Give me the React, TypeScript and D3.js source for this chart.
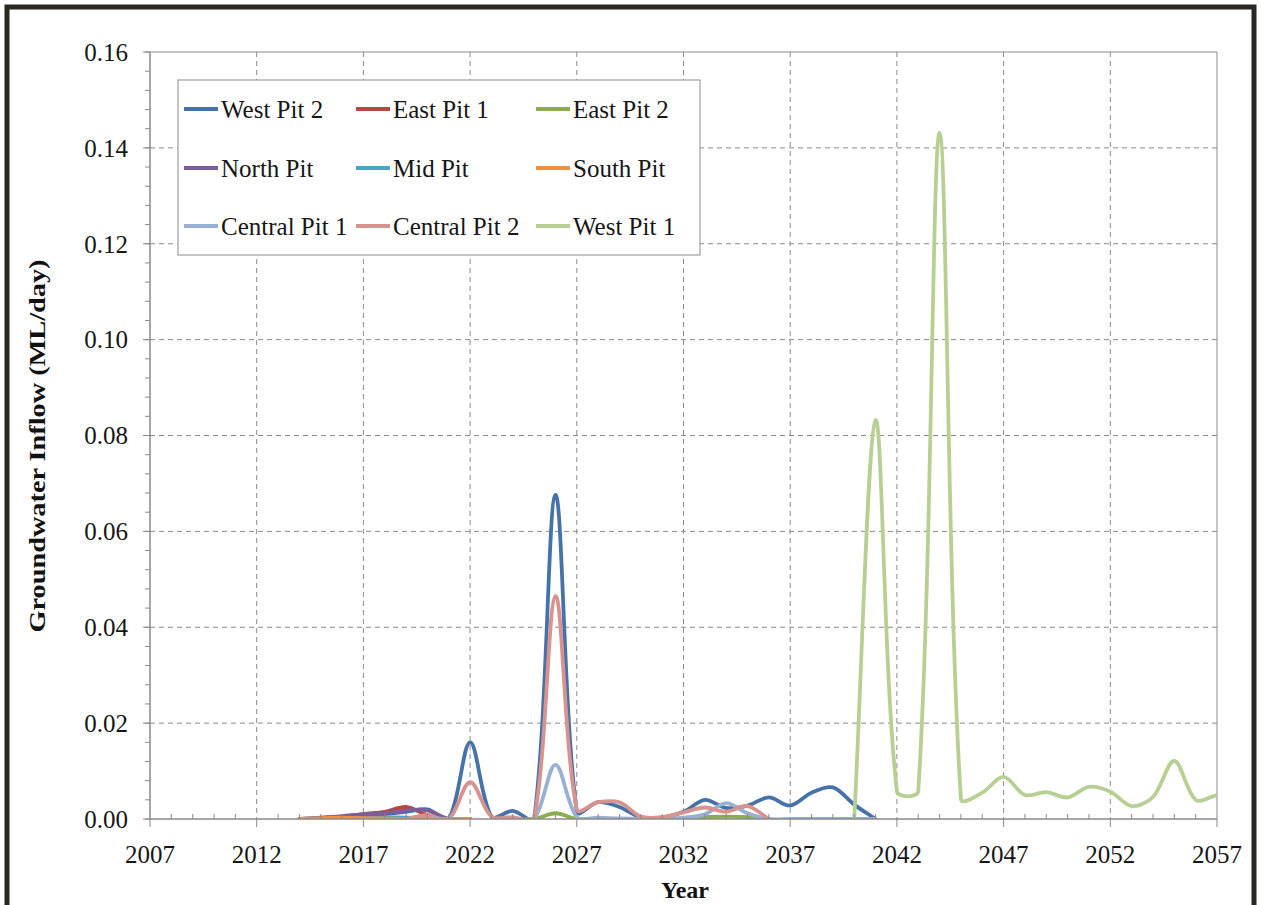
import * as d3 from 'd3'

// chart values (ML/day, one value per year from the start year)
const yearTicks = [2007, 2012, 2017, 2022, 2027, 2032, 2037, 2042, 2047, 2052, 2057]
const valueTicks = [0, 0.02, 0.04, 0.06, 0.08, 0.1, 0.12, 0.14, 0.16]

const westPit2 = [0, 0.0002, 0.0005, 0.0008, 0.001, 0.0015, 0.002, 0, 0.016, 0.0005, 0.0017, 0, 0.0676, 0.0015, 0.0035, 0.0025, 0.0003, 0.0003, 0.0015, 0.004, 0.0023, 0.0028, 0.0045, 0.0028, 0.0055, 0.0066, 0.003, 0]
const eastPit1 = [0, 0.0001, 0.0003, 0.001, 0.0015, 0.0025, 0.0008, 0, 0]
const eastPit2 = [0, 0, 0.0012, 0, 0, 0, 0, 0, 0, 0.0004, 0.0005, 0.0004, 0]
const northPit = [0, 0.0003, 0.0006, 0.001, 0.0012, 0.0018, 0.0018, 0, 0]
const midPit = [0, 0, 0, 0.0002, 0.0003, 0.0003, 0.0002, 0, 0]
const southPit = [0, 0.0002, 0.0003, 0.0002, 0.0001, 0, 0, 0, 0]
const centralPit1 = [0, 0, 0.0113, 0.0004, 0.0003, 0.0001, 0, 0, 0.0003, 0.001, 0.0033, 0.0012, 0, 0, 0, 0, 0, 0]
const centralPit2 = [0, 0.0008, 0, 0.0077, 0.0005, 0.0004, 0, 0.0465, 0.002, 0.0035, 0.0035, 0.0005, 0.0004, 0.0014, 0.0024, 0.0015, 0.0027, 0]
const westPit1 = [0, 0.0832, 0.0058, 0.0058, 0.1431, 0.0042, 0.0055, 0.0088, 0.005, 0.0056, 0.0045, 0.0067, 0.0057, 0.0027, 0.0046, 0.0121, 0.004, 0.005]

const series = [
  { name: 'West Pit 2', start: 2014, values: westPit2, color: '#4672aa' },
  { name: 'East Pit 1', start: 2014, values: eastPit1, color: '#b9463f' },
  { name: 'East Pit 2', start: 2024, values: eastPit2, color: '#8bad4c' },
  { name: 'North Pit', start: 2014, values: northPit, color: '#7a5f9c' },
  { name: 'Mid Pit', start: 2014, values: midPit, color: '#4aa5be' },
  { name: 'South Pit', start: 2014, values: southPit, color: '#ee9040' },
  { name: 'Central Pit 1', start: 2024, values: centralPit1, color: '#98b1d2' },
  { name: 'Central Pit 2', start: 2019, values: centralPit2, color: '#d8938f' },
  { name: 'West Pit 1', start: 2040, values: westPit1, color: '#b8cf93' },
]

const W = 1261
const H = 905
const m = { left: 150, right: 1217, top: 52, bottom: 819 }
const serif = "'Liberation Serif', 'Times New Roman', serif"
const gridColor = '#8a8a8a'
const textColor = '#161616'

// spreadsheet-style smoothing: catmull-rom tangents split by neighbouring segment lengths
function smoothPath(pts: [number, number][]) {
  const p = d3.path()
  if (!pts.length) return ''
  p.moveTo(pts[0][0], pts[0][1])
  const dist = (a: [number, number], b: [number, number]) => Math.hypot(b[0] - a[0], b[1] - a[1])
  for (let i = 0; i < pts.length - 1; i++) {
    const p0 = pts[i - 1] || pts[i]
    const p1 = pts[i]
    const p2 = pts[i + 1]
    const p3 = pts[i + 2] || p2
    const d01 = dist(p0, p1), d12 = dist(p1, p2), d23 = dist(p2, p3)
    const f1 = d12 / ((d01 + d12) || 1) / 3
    const f2 = d12 / ((d12 + d23) || 1) / 3
    p.bezierCurveTo(
      p1[0] + (p2[0] - p0[0]) * f1, p1[1] + (p2[1] - p0[1]) * f1,
      p2[0] - (p3[0] - p1[0]) * f2, p2[1] - (p3[1] - p1[1]) * f2,
      p2[0], p2[1])
  }
  return p.toString()
}

export default function App() {
  const x = d3.scaleLinear().domain([2007, 2057]).range([m.left, m.right])
  const y = d3.scaleLinear().domain([0, 0.16]).range([m.bottom, m.top])

  const minorYears = d3.range(2007, 2058).filter(v => (v - 2007) % 5 !== 0)
  const minorValues = d3.range(0, 0.1601, 0.004)

  const legendCols = [184, 356, 536]
  const legendRows = [109, 168, 226]

  return (
    <div style={{ position: 'absolute', left: 0, top: 0 }}>
      <svg width={W} height={H} style={{ display: 'block', background: '#fff' }}>
        <defs>
          <clipPath id="plot">
            <rect x={m.left} y={m.top - 2} width={m.right - m.left} height={m.bottom - m.top + 2} />
          </clipPath>
        </defs>

        {/* outer frame */}
        <rect x={7} y={7} width={W - 14} height={H} fill="none" stroke="#2b2722" strokeWidth={5} />

        {/* grid */}
        {valueTicks.filter(v => v > 0 && v < 0.16).map(v => (
          <line key={'gy' + v} x1={m.left} x2={m.right} y1={y(v)} y2={y(v)}
            stroke={gridColor} strokeWidth={1} strokeDasharray="5,4" />
        ))}
        {yearTicks.filter(v => v > 2007 && v < 2057).map(v => (
          <line key={'gx' + v} x1={x(v)} x2={x(v)} y1={m.top} y2={m.bottom}
            stroke={gridColor} strokeWidth={1} strokeDasharray="5,4" />
        ))}

        {/* plot border */}
        <line x1={m.left} x2={m.right} y1={m.top} y2={m.top} stroke={gridColor} />
        <line x1={m.right} x2={m.right} y1={m.top} y2={m.bottom} stroke={gridColor} />

        {/* series */}
        <g clipPath="url(#plot)">
          {series.map(s => (
            <path key={s.name}
              d={smoothPath(s.values.map((v, i) => [x(s.start + i), y(v)] as [number, number]))}
              fill="none" stroke={s.color} strokeWidth={3.8} strokeLinejoin="round" strokeLinecap="round" />
          ))}
        </g>

        {/* axes */}
        <line x1={m.left} x2={m.left} y1={m.top} y2={m.bottom} stroke={gridColor} strokeWidth={1.5} />
        <line x1={m.left} x2={m.right} y1={m.bottom} y2={m.bottom} stroke={gridColor} strokeWidth={1.5} />
        {minorValues.map(v => (
          <line key={'ty' + v} x1={m.left - 5} x2={m.left} y1={y(v)} y2={y(v)} stroke={gridColor} />
        ))}
        {valueTicks.map(v => (
          <g key={'ly' + v}>
            <line x1={m.left - 7} x2={m.left} y1={y(v)} y2={y(v)} stroke={gridColor} />
            <text x={128} y={y(v)} dy="0.35em" textAnchor="end" fontFamily={serif} fontSize={25} fill={textColor}>
              {v.toFixed(2)}
            </text>
          </g>
        ))}
        {minorYears.map(v => (
          <line key={'tx' + v} x1={x(v)} x2={x(v)} y1={m.bottom - 5} y2={m.bottom} stroke={gridColor} />
        ))}
        {yearTicks.map(v => (
          <g key={'lx' + v}>
            <line x1={x(v)} x2={x(v)} y1={m.bottom} y2={m.bottom + 8} stroke={gridColor} />
            <text x={x(v)} y={863} textAnchor="middle" fontFamily={serif} fontSize={25} fill={textColor}>
              {v}
            </text>
          </g>
        ))}

        {/* axis titles */}
        <text x={685} y={898} textAnchor="middle" fontFamily={serif} fontWeight="bold" fontSize={24} fill="#111">
          Year
        </text>
        <text transform={`translate(45, 446) rotate(-90)`} textAnchor="middle" fontFamily={serif}
          fontWeight="bold" fontSize={23} fill="#111" textLength={373} lengthAdjust="spacingAndGlyphs">
          Groundwater Inflow (ML/day)
        </text>

        {/* legend */}
        <rect x={178} y={80} width={522} height={175} fill="#fff" stroke="#8c8c8c" strokeWidth={1} />
        {series.map((s, i) => {
          const lx = legendCols[i % 3]
          const ly = legendRows[Math.floor(i / 3)]
          return (
            <g key={'lg' + s.name}>
              <line x1={lx} x2={lx + 34} y1={ly} y2={ly} stroke={s.color} strokeWidth={4} />
              <text x={lx + 37} y={ly} dy="0.35em" fontFamily={serif} fontSize={25} fill={textColor}>{s.name}</text>
            </g>
          )
        })}
      </svg>
    </div>
  )
}
